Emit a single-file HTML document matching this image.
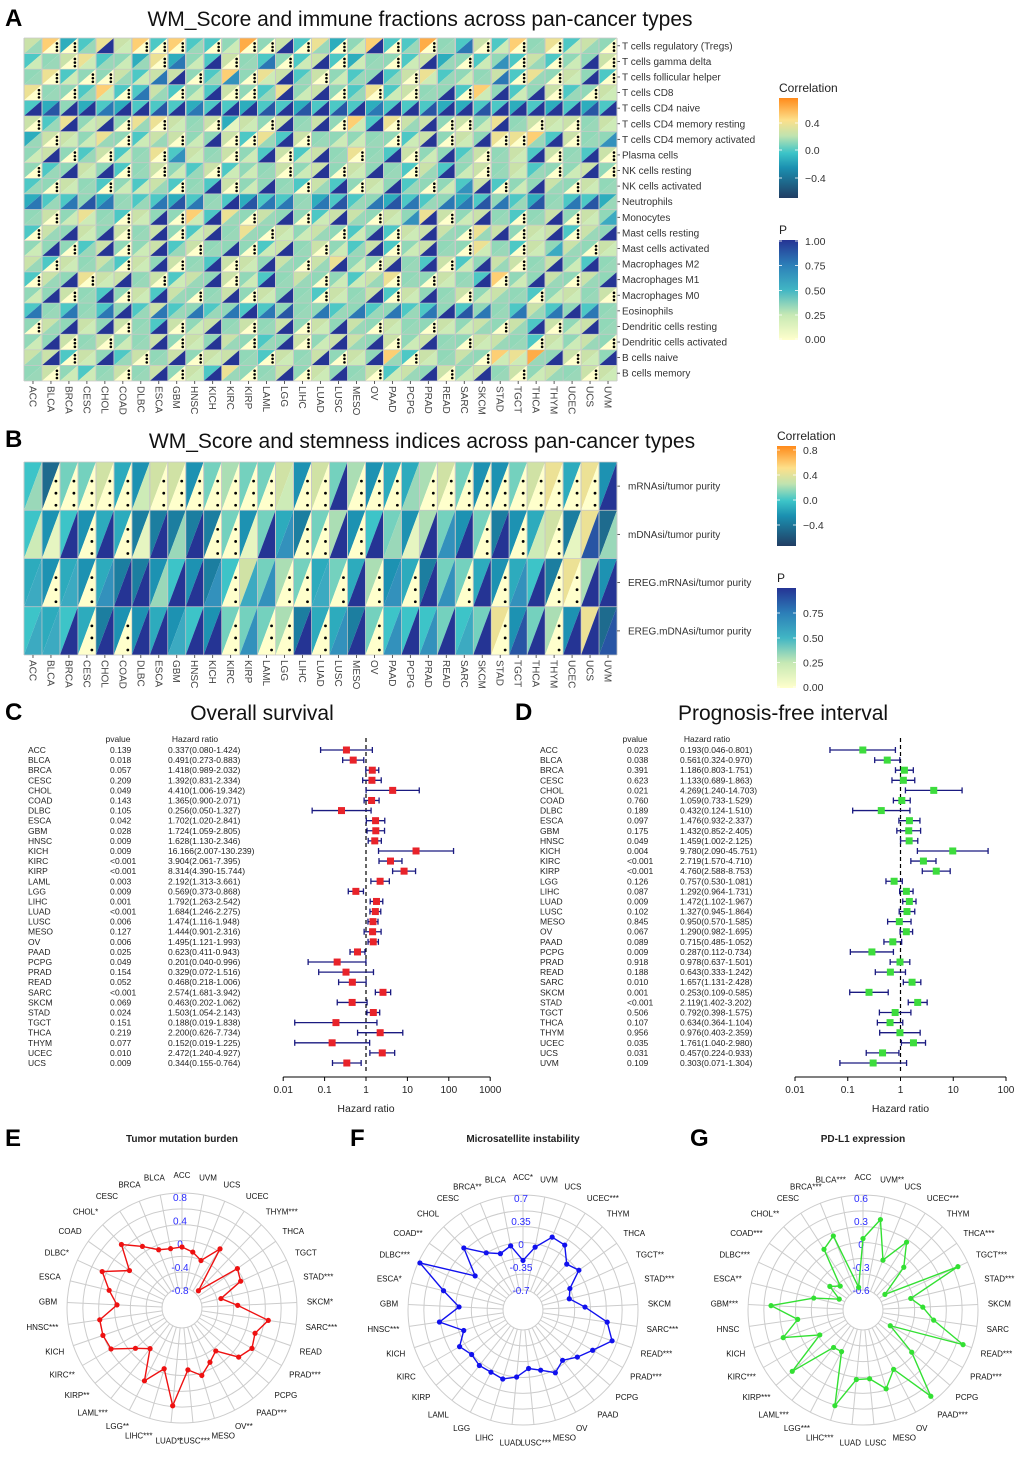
<!DOCTYPE html>
<html><head><meta charset="utf-8"><style>
html,body{margin:0;padding:0;background:#fff}
svg{display:block;font-family:"Liberation Sans",sans-serif}
</style></head><body>
<svg id="fig" width="1020" height="1459" viewBox="0 0 1020 1459" xmlns="http://www.w3.org/2000/svg">
<defs>
<linearGradient id="gc" x1="0" y1="1" x2="0" y2="0">
<stop offset="0" stop-color="#213d63"/><stop offset="0.3" stop-color="#1b8fb0"/><stop offset="0.45" stop-color="#3cc4c8"/><stop offset="0.62" stop-color="#bfe3b0"/><stop offset="0.78" stop-color="#fde08a"/><stop offset="1" stop-color="#ff8a1a"/>
</linearGradient>
<linearGradient id="gp" x1="0" y1="1" x2="0" y2="0">
<stop offset="0" stop-color="#ffffcc"/><stop offset="0.25" stop-color="#c7e9b4"/><stop offset="0.5" stop-color="#41b6c4"/><stop offset="0.75" stop-color="#2c7fb8"/><stop offset="1" stop-color="#253494"/>
</linearGradient>
</defs>
<g id="root"></g>
</svg>
<script>
// ---------- data ----------
const cancers = ["ACC","BLCA","BRCA","CESC","CHOL","COAD","DLBC","ESCA","GBM","HNSC","KICH","KIRC","KIRP","LAML","LGG","LIHC","LUAD","LUSC","MESO","OV","PAAD","PCPG","PRAD","READ","SARC","SKCM","STAD","TGCT","THCA","THYM","UCEC","UCS","UVM"];
const immuneRows = ["T cells regulatory (Tregs)","T cells gamma delta","T cells follicular helper","T cells CD8","T cells CD4 naive","T cells CD4 memory resting","T cells CD4 memory activated","Plasma cells","NK cells resting","NK cells activated","Neutrophils","Monocytes","Mast cells resting","Mast cells activated","Macrophages M2","Macrophages M1","Macrophages M0","Eosinophils","Dendritic cells resting","Dendritic cells activated","B cells naive","B cells memory"];
const corrA = [
"683476848445956473584495464857465","456745373546545464355463545464556","574556466548576465454674556475654","755484464546547565474655485456456",
"435343444344344344434443344343434","647565776563656565847665657566656","366575466556474655555465657784655","565464574656546465754655465646546",
"545654565464556565655464565645565","456545464546555464565455464556565","344535443454344534453445345435443","565754655847565546656576565456565",
"465656565465756565454666576566465","555465564655546565464565575465656","646564656546656567556546456656545","465766564656545655467556548556565",
"556545646556565546564655656545656","454545464545445554545445455464545","565656546565656565656556565646565","556565565656545656656565566546565",
"664654656566546565658465658795665","565456565647556565564656565656566"];
const pA = [
"300392000302009030290303702030230","230232307290370290230293026030290","302003279036029302393023237030290","030320730290039290302039029290302",
"989979989799989898979989989999989","039290302301209390290390029302032","302230230290039032230290290039036","290302306230290293039029303290390",
"039290302302230290293039203230290","302302230390293039029302690293023","737873378739877378378737787383783","302230290293039029302690293039025",
"039290390293302230290293039029039","290390293039029302390293023025302","302330290390293039209390293039293","039029302390293302230302390293039",
"290390293039029302390293023302230","737379373737978373737379873737973","039290390293039029302302230390293","290302390293039029390293023302230",
"390293039029302390293023302239029","302230390293039029302390293023302"];
const stemRows = ["mRNAsi/tumor purity","mDNAsi/tumor purity","EREG.mRNAsi/tumor purity","EREG.mDNAsi/tumor purity"];
const corrB = ["516684388367668386734478633689493","535344222226364267356376362348291","434342235325867646473426643452973","545423343536667244265556569367391"];
const pB = ["300000200000002009000300000000009","219090193900196009093196909020183","505069939960560050906096090690099","559090995990600906906969590890998"];
// forest C (overall survival)
const osNames = ["ACC","BLCA","BRCA","CESC","CHOL","COAD","DLBC","ESCA","GBM","HNSC","KICH","KIRC","KIRP","LAML","LGG","LIHC","LUAD","LUSC","MESO","OV","PAAD","PCPG","PRAD","READ","SARC","SKCM","STAD","TGCT","THCA","THYM","UCEC","UCS"];
const osP = ["0.139","0.018","0.057","0.209","0.049","0.143","0.105","0.042","0.028","0.009","0.009","<0.001","<0.001","0.003","0.009","0.001","<0.001","0.006","0.127","0.006","0.025","0.049","0.154","0.052","<0.001","0.069","0.024","0.151","0.219","0.077","0.010","0.009"];
const osHR = [0.337,0.491,1.418,1.392,4.410,1.365,0.256,1.702,1.724,1.628,16.166,3.904,8.314,2.192,0.569,1.792,1.684,1.474,1.444,1.495,0.623,0.201,0.329,0.468,2.574,0.463,1.503,0.188,2.200,0.152,2.472,0.344];
const osLo = [0.080,0.273,0.989,0.831,1.006,0.900,0.050,1.020,1.059,1.130,2.007,2.061,4.390,1.313,0.373,1.263,1.246,1.116,0.901,1.121,0.411,0.040,0.072,0.218,1.681,0.202,1.054,0.019,0.626,0.019,1.240,0.155];
const osHi = [1.424,0.883,2.032,2.334,19.342,2.071,1.327,2.841,2.805,2.346,130.239,7.395,15.744,3.661,0.868,2.542,2.275,1.948,2.316,1.993,0.943,0.996,1.516,1.006,3.942,1.062,2.143,1.838,7.734,1.225,4.927,0.764];
// forest D (PFI)
const pfNames = ["ACC","BLCA","BRCA","CESC","CHOL","COAD","DLBC","ESCA","GBM","HNSC","KICH","KIRC","KIRP","LGG","LIHC","LUAD","LUSC","MESO","OV","PAAD","PCPG","PRAD","READ","SARC","SKCM","STAD","TGCT","THCA","THYM","UCEC","UCS","UVM"];
const pfP = ["0.023","0.038","0.391","0.623","0.021","0.760","0.189","0.097","0.175","0.049","0.004","<0.001","<0.001","0.126","0.087","0.009","0.102","0.845","0.067","0.089","0.009","0.918","0.188","0.010","0.001","<0.001","0.506","0.107","0.956","0.035","0.031","0.109"];
const pfHR = [0.193,0.561,1.186,1.133,4.269,1.059,0.432,1.476,1.432,1.459,9.780,2.719,4.760,0.757,1.292,1.472,1.327,0.950,1.290,0.715,0.287,0.978,0.643,1.657,0.253,2.119,0.792,0.634,0.976,1.761,0.457,0.303];
const pfLo = [0.046,0.324,0.803,0.689,1.240,0.733,0.124,0.932,0.852,1.002,2.090,1.570,2.588,0.530,0.964,1.102,0.945,0.570,0.982,0.485,0.112,0.637,0.333,1.131,0.109,1.402,0.398,0.364,0.403,1.040,0.224,0.071];
const pfHi = [0.801,0.970,1.751,1.863,14.703,1.529,1.510,2.337,2.405,2.125,45.751,4.710,8.753,1.081,1.731,1.967,1.864,1.585,1.695,1.052,0.734,1.501,1.242,2.428,0.585,3.202,1.575,1.104,2.359,2.980,0.933,1.304];
// radar (clockwise from top)
const radarCats = ["ACC","UVM","UCS","UCEC","THYM","THCA","TGCT","STAD","SKCM","SARC","READ","PRAD","PCPG","PAAD","OV","MESO","LUSC","LUAD","LIHC","LGG","LAML","KIRP","KIRC","KICH","HNSC","GBM","ESCA","DLBC","COAD","CHOL","CESC","BRCA","BLCA"];
const tmbStars = ["","","","","***","","","***","*","***","","***","","***","**","","***","**","***","**","***","**","**","","***","","","*","","*","","",""];
const tmbVals = [-0.06,-0.13,-0.23,0.1,-0.7,0.06,0.0,-0.42,-0.15,0.39,0.22,0.28,0.18,-0.17,-0.06,0.1,-0.04,0.58,-0.02,0.3,-0.22,-0.05,0.3,0.33,0.32,0.01,0.18,0.4,0.0,0.4,0.15,-0.03,-0.07];
const msiStars = ["*","","","***","","","**","***","","***","***","***","","","","","***","","","","","","","","***","","*","***","**","","","**",""];
const msiVals = [-0.25,-0.03,0.19,0.17,-0.04,0.04,-0.22,-0.28,-0.06,0.29,0.43,0.22,0.09,-0.03,0.07,-0.05,-0.11,0.02,0.09,0.06,0.07,0.03,0.11,-0.05,0.28,-0.03,0.24,0.72,-0.11,0.3,0.03,-0.08,-0.01];
const pdStars = ["","**","","***","","***","***","***","","","***","***","","***","","","","","***","***","***","***","***","","","***","**","***","***","**","","***","***"];
const pdVals = [0.07,0.34,-0.16,0.19,-0.09,-0.51,0.5,-0.22,-0.08,0.07,0.52,-0.45,-0.02,0.57,0.01,0.21,0.04,0.05,0.44,-0.25,-0.24,0.36,-0.21,0.24,0.0,0.34,-0.2,-0.52,-0.33,-0.43,0.08,0.18,-0.56];

// ---------- helpers ----------
const NS="http://www.w3.org/2000/svg";
const root=document.getElementById('root');
function mk(tag,attrs,parent,txt){const e=document.createElementNS(NS,tag);for(const k in attrs)e.setAttribute(k,attrs[k]);if(txt!==undefined)e.textContent=txt;(parent||root).appendChild(e);return e;}
function lerp(a,b,t){return a+(b-a)*t}
function hex(c){return [parseInt(c.substr(1,2),16),parseInt(c.substr(3,2),16),parseInt(c.substr(5,2),16)]}
function ramp(stops,t){t=Math.max(0,Math.min(1,t));for(let i=1;i<stops.length;i++){if(t<=stops[i][0]){const u=(t-stops[i-1][0])/(stops[i][0]-stops[i-1][0]);const a=hex(stops[i-1][1]),b=hex(stops[i][1]);return `rgb(${a.map((v,j)=>Math.round(lerp(v,b[j],u))).join(',')})`;}}return stops[stops.length-1][1];}
const cStops=[[0,"#213d63"],[0.3,"#1b8fb0"],[0.45,"#3cc4c8"],[0.62,"#bfe3b0"],[0.78,"#fde08a"],[1,"#ff8a1a"]];
const pStops=[[0,"#ffffcc"],[0.25,"#c7e9b4"],[0.5,"#41b6c4"],[0.75,"#2c7fb8"],[1,"#253494"]];
function label(x,y,t,o){o=o||{};const e=mk('text',{x:x,y:y,'font-size':o.fs||10,fill:o.fill||'#222','text-anchor':o.anchor||'start','font-weight':o.fw||'normal'},o.parent,t);if(o.rot!==undefined)e.setAttribute('transform',`rotate(${o.rot} ${x} ${y})`);return e;}

// ---------- heatmap ----------
function heatmap(x0,y0,w,h,rows,corr,pv,cmin,cmax,rowLabelX,name){
  const g=mk('g',{});
  
  
  const cw=w/cancers.length, rh=h/rows.length;
  rows.forEach((rn,r)=>{
    for(let c=0;c<cancers.length;c++){
      const cv=-0.5+parseInt(corr[r][c])*0.11;
      const p=parseInt(pv[r][c])/9;
      const x=x0+c*cw,y=y0+r*rh;
      const t1=mk('polygon',{points:`${x},${y} ${x+cw},${y} ${x},${y+rh}`,fill:ramp(cStops,(cv-cmin)/(cmax-cmin)),stroke:'none'},g);
      
      
      const t2=mk('polygon',{points:`${x+cw},${y} ${x+cw},${y+rh} ${x},${y+rh}`,fill:ramp(pStops,p),stroke:'none'},g);
      
      
      const nd=p<0.01?3:(p<0.05?1:0);
      if(rh>30){
        for(let k=0;k<nd;k++)mk('circle',{cx:x+cw-4,cy:y+rh-5-k*(rh/4),r:1.4,fill:'#000'},g);
      }else{
        for(let k=0;k<nd;k++)mk('circle',{cx:x+cw-3,cy:y+rh-3-k*3.6,r:1.3,fill:'#000'},g);
      }
    }
    for(let c=0;c<=cancers.length;c++)mk('line',{x1:x0+c*cw,y1:y0,x2:x0+c*cw,y2:y0+h,stroke:'#c8c8c8','stroke-width':0.7},g);
    mk('line',{x1:x0,y1:y0+r*rh,x2:x0+w,y2:y0+r*rh,stroke:'#c8c8c8','stroke-width':0.7},g);
    mk('line',{x1:x0+w,y1:y0+r*rh+rh/2,x2:x0+w+3,y2:y0+r*rh+rh/2,stroke:'#333','stroke-width':0.8},g);
    const t=label(rowLabelX,y0+r*rh+rh/2+3.5,rn,{fs:10,fill:'#333',parent:g});
    
    
  });
  mk('line',{x1:x0,y1:y0+h,x2:x0+w,y2:y0+h,stroke:'#c8c8c8','stroke-width':0.7},g);
  cancers.forEach((cn,c)=>{
    const xx=x0+c*cw+cw/2;
    mk('line',{x1:xx,y1:y0+h,x2:xx,y2:y0+h+3,stroke:'#333','stroke-width':0.8},g);
    const t=label(xx-3.5,y0+h+5,cn,{fs:10,fill:'#444',rot:90,parent:g});
    
    
  });
}
function legendBar(x,y,h,title,grad,ticks,name){
  const g=mk('g',{});
  
  
  label(x,y-6,title,{fs:12,fill:'#222',parent:g});
  mk('rect',{x:x,y:y,width:19,height:h,fill:`url(#${grad})`},g);
  ticks.forEach(t=>{const yy=y+t[1]*h;mk('line',{x1:x,y1:yy,x2:x+3,y2:yy,stroke:'#fff','stroke-width':0.8},g);mk('line',{x1:x+16,y1:yy,x2:x+19,y2:yy,stroke:'#fff','stroke-width':0.8},g);label(x+26,yy+4,t[0],{fs:10.5,fill:'#333',parent:g});});
}

// Panel A
label(5,26,'A',{fs:24,fw:'bold',fill:'#000'});
label(420,26,'WM_Score and immune fractions across pan-cancer types',{fs:21,anchor:'middle',fill:'#111'});
heatmap(24,38,593,343,immuneRows,corrA,pA,-0.65,0.6,622,'immune-heatmap');
legendBar(779,98,100,'Correlation','gc',[['0.4',0.25],['0.0',0.52],['\u22120.4',0.8]],'correlation-legend-a');
legendBar(779,240,100,'P','gp',[['1.00',0.01],['0.75',0.255],['0.50',0.505],['0.25',0.75],['0.00',0.99]],'p-legend-a');

// Panel B
label(5,447,'B',{fs:24,fw:'bold',fill:'#000'});
label(422,448,'WM_Score and stemness indices across pan-cancer types',{fs:21,anchor:'middle',fill:'#111'});
heatmap(24,462,593,193,stemRows,corrB,pB,-0.65,0.9,628,'stemness-heatmap');
legendBar(777,446,100,'Correlation','gc',[['0.8',0.04],['0.4',0.29],['0.0',0.54],['\u22120.4',0.79]],'correlation-legend-b');
legendBar(777,588,100,'P','gp',[['0.75',0.25],['0.50',0.5],['0.25',0.745],['0.00',0.99]],'p-legend-b');

// ---------- forest ----------
function forest(o){
  const g=mk('g',{});
  
  
  const xs=v=>o.x1+Math.log10(v)*o.pxd;
  const y0=750,dy=(1063-750)/(o.names.length-1);
  label(o.pvX+8,742,'pvalue',{fs:8.5,anchor:'middle',parent:g});
  label(o.hrX+27,742,'Hazard ratio',{fs:8.5,anchor:'middle',parent:g});
  mk('line',{x1:xs(1),y1:738,x2:xs(1),y2:1072,stroke:'#000','stroke-width':1.2,'stroke-dasharray':'4,3'},g);
  o.names.forEach((n,i)=>{
    const y=y0+i*dy;
    label(o.nameX,y+3,n,{fs:8.5,parent:g});
    label(o.pvX,y+3,o.p[i],{fs:8.5,parent:g});
    label(o.hrX,y+3,`${o.hr[i].toFixed(3)}(${o.lo[i].toFixed(3)}-${o.hi[i].toFixed(3)})`,{fs:8.5,parent:g});
    const l=mk('line',{x1:xs(o.lo[i]),y1:y,x2:xs(o.hi[i]),y2:y,stroke:'#1a1a80','stroke-width':1.3},g);
    
    
    mk('line',{x1:xs(o.lo[i]),y1:y-3,x2:xs(o.lo[i]),y2:y+3,stroke:'#1a1a80','stroke-width':1.3},g);
    mk('line',{x1:xs(o.hi[i]),y1:y-3,x2:xs(o.hi[i]),y2:y+3,stroke:'#1a1a80','stroke-width':1.3},g);
    const s=mk('rect',{x:xs(o.hr[i])-3.5,y:y-3.5,width:7,height:7,fill:o.color},g);
    
    
  });
  const a=mk('g',{},g);
  
  
  mk('line',{x1:xs(o.ticks[0]),y1:1077,x2:xs(o.ticks[o.ticks.length-1]),y2:1077,stroke:'#000','stroke-width':1},a);
  o.ticks.forEach(t=>{mk('line',{x1:xs(t),y1:1077,x2:xs(t),y2:1081,stroke:'#000'},a);label(xs(t),1093,String(t),{fs:10,anchor:'middle',parent:a});});
  label(xs(1),1112,'Hazard ratio',{fs:10.5,anchor:'middle',parent:a});
}
label(5,720,'C',{fs:24,fw:'bold',fill:'#000'});
label(262,720,'Overall survival',{fs:21,anchor:'middle',fill:'#111'});
forest({name:'os-forest',names:osNames,p:osP,hr:osHR,lo:osLo,hi:osHi,nameX:28,pvX:110,hrX:168,x1:366,pxd:41.4,ticks:[0.01,0.1,1,10,100,1000],color:'#e8232a'});
label(515,720,'D',{fs:24,fw:'bold',fill:'#000'});
label(783,720,'Prognosis-free interval',{fs:21,anchor:'middle',fill:'#111'});
forest({name:'pfi-forest',names:pfNames,p:pfP,hr:pfHR,lo:pfLo,hi:pfHi,nameX:540,pvX:627,hrX:680,x1:900.5,pxd:52.75,ticks:[0.01,0.1,1,10,100],color:'#3ddc3d'});

// ---------- radar ----------
function radar(o){
  const g=mk('g',{});
  
  
  const n=radarCats.length,R0=20,R1=115;
  const rs=v=>o.r0+(v-o.vmin)/(o.vmax-o.vmin)*(o.r1-o.r0);
  const ang=i=>-Math.PI/2+i*2*Math.PI/n;
  for(let k=0;k<=6;k++)mk('circle',{cx:o.cx,cy:o.cy,r:R0+k*(R1-R0)/6,fill:'none',stroke:'#ccc','stroke-width':1},g);
  for(let i=0;i<n;i++){const a=ang(i);mk('line',{x1:o.cx+R0*Math.cos(a),y1:o.cy+R0*Math.sin(a),x2:o.cx+R1*Math.cos(a),y2:o.cy+R1*Math.sin(a),stroke:'#ccc','stroke-width':1},g);}
  o.ticks.forEach(t=>label(o.cx-2,o.cy-rs(t)+4,t,{fs:10,fill:'#2b2bff',anchor:'middle',parent:g}));
  const pts=o.vals.map((v,i)=>[o.cx+rs(v)*Math.cos(ang(i)),o.cy+rs(v)*Math.sin(ang(i))]);
  const pl=mk('polygon',{points:pts.map(p=>p.join(',')).join(' '),fill:'none',stroke:o.color,'stroke-width':1.4},g);
  
  
  pts.forEach(p=>{const c=mk('circle',{cx:p[0],cy:p[1],r:2.6,fill:o.color},g);});
  radarCats.forEach((c,i)=>{
    const a=ang(i),lr=133;const x=o.cx+lr*Math.cos(a),y=o.cy+lr*Math.sin(a)+3;
    const cs=Math.cos(a);const anc=Math.abs(cs)<0.15?'middle':(cs>0?'start':'end');
    const dx=anc==='start'?-8:(anc==='end'?8:0);
    label(x+dx,y,c+o.stars[i],{fs:8,anchor:anc,fill:'#111',parent:g});
  });
  label(o.cx,1142,o.title,{fs:10,fw:'bold',anchor:'middle',parent:g});
}
label(5,1146,'E',{fs:24,fw:'bold',fill:'#000'});
radar({name:'tmb-radar',cx:182,cy:1308,r0:18,r1:111,vmin:-0.8,vmax:0.8,ticks:[0.8,0.4,0,-0.4,-0.8],vals:tmbVals,stars:tmbStars,color:'#ee1111',title:'Tumor mutation burden'});
label(350,1146,'F',{fs:24,fw:'bold',fill:'#000'});
radar({name:'msi-radar',cx:523,cy:1310,r0:20,r1:112,vmin:-0.7,vmax:0.7,ticks:[0.7,0.35,0,-0.35,-0.7],vals:msiVals,stars:msiStars,color:'#1111ee',title:'Microsatellite instability'});
label(690,1146,'G',{fs:24,fw:'bold',fill:'#000'});
radar({name:'pdl1-radar',cx:863,cy:1310,r0:20,r1:112,vmin:-0.6,vmax:0.6,ticks:[0.6,0.3,0,-0.3,-0.6],vals:pdVals,stars:pdStars,color:'#33e033',title:'PD-L1 expression'});
</script>
</body></html>
